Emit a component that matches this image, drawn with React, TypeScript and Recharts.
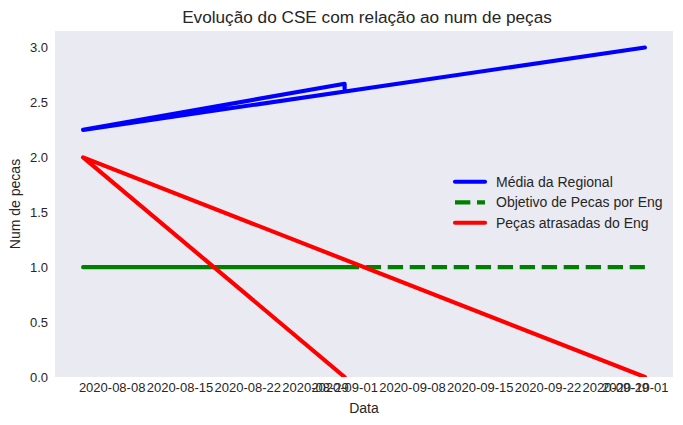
import React from 'react';
import { LineChart, Line, XAxis, YAxis, CartesianGrid } from 'recharts';

// ---- data ----
const mediaDates = ['2020-09-01', '2020-09-01', '2020-08-05', '2020-10-02'];
const mediaValues = [2.6, 2.67, 2.25, 3.0];

const objetivoDates = ['2020-09-01', '2020-08-05', '2020-10-02'];
const objetivoValues = [1, 1, 1];

const atrasadasDates = ['2020-09-01', '2020-08-05', '2020-10-02'];
const atrasadasValues = [0, 2, 0];

const xTickLabels = [
  '2020-08-08', '2020-08-15', '2020-08-22', '2020-08-29', '2020-09-01',
  '2020-09-08', '2020-09-15', '2020-09-22', '2020-09-29', '2020-10-01',
];
const yTickValues = [0, 0.5, 1, 1.5, 2, 2.5, 3];

const seriesNames = ['Média da Regional', 'Objetivo de Pecas por Eng', 'Peças atrasadas do Eng'];
const seriesColors = ['#0000FF', '#008000', '#FF0000'];

const TITLE = 'Evolução do CSE com relação ao num de peças';
const X_LABEL = 'Data';
const Y_LABEL = 'Num de pecas';

// ---- helpers ----
const toTs = (d: string) => Date.parse(d + 'T00:00:00Z');
const fmtDate = (v: number) => new Date(v).toISOString().slice(0, 10);
const build = (dates: string[], values: number[]) => dates.map((d, i) => ({ t: toTs(d), v: values[i] }));

const mediaData = build(mediaDates, mediaValues);
const objetivoData = build(objetivoDates, objetivoValues);
const atrasadasData = build(atrasadasDates, atrasadasValues);

const allTs = [...mediaDates, ...objetivoDates, ...atrasadasDates].map(toTs);
const tMin = Math.min(...allTs);
const tMax = Math.max(...allTs);
const pad = (tMax - tMin) * 0.05;
const xDomain = [tMin - pad, tMax + pad];
const xTicks = xTickLabels.map(toTs);

const FONT = '"Liberation Sans", Arial, sans-serif';
const TEXT = '#262626';

const W = 683;
const H = 425;
const M = { top: 31, right: 10, bottom: 0, left: 0 };
const YW = 55;
const XH = 48;
const plotLeft = M.left + YW;
const plotRight = W - M.right;
const plotTop = M.top;
const plotBottom = H - M.bottom - XH;
const plotCx = (plotLeft + plotRight) / 2;
const plotCy = (plotTop + plotBottom) / 2;

const LW = 4.15;
const DASH = `${3.7 * LW} ${1.6 * LW}`;

export default function App() {
  const legendX = 455;
  const legendRows = [181.7, 202.3, 222.7];
  return (
    <div style={{ position: 'absolute', left: 0, top: 0, width: W, height: H, background: '#fff' }}>
      <LineChart width={W} height={H} margin={M} style={{ fontFamily: FONT }}>
        <CartesianGrid fill="#EAEAF2" horizontal={false} vertical={false} stroke="none" />
        <XAxis
          dataKey="t"
          type="number"
          domain={xDomain}
          ticks={xTicks}
          tickFormatter={fmtDate}
          interval={0}
          allowDataOverflow
          axisLine={false}
          tickLine={false}
          tickSize={0}
          tickMargin={6}
          height={XH}
          tick={{ fill: TEXT, fontSize: 13, fontFamily: FONT }}
        />
        <YAxis
          type="number"
          domain={[0, 3.15]}
          ticks={yTickValues}
          tickFormatter={(v: number) => v.toFixed(1)}
          interval={0}
          allowDataOverflow
          axisLine={false}
          tickLine={false}
          tickSize={0}
          tickMargin={7}
          width={YW}
          tick={{ fill: TEXT, fontSize: 13, fontFamily: FONT }}
        />
        <Line
          data={mediaData}
          dataKey="v"
          type="linear"
          stroke={seriesColors[0]}
          strokeWidth={LW}
          strokeLinecap="round"
          strokeLinejoin="round"
          dot={false}
          activeDot={false}
          isAnimationActive={false}
          name={seriesNames[0]}
        />
        <Line
          data={objetivoData}
          dataKey="v"
          type="linear"
          stroke={seriesColors[1]}
          strokeWidth={LW}
          strokeDasharray={DASH}
          strokeDashoffset={5.7}
          strokeLinecap="butt"
          strokeLinejoin="round"
          dot={false}
          activeDot={false}
          isAnimationActive={false}
          name={seriesNames[1]}
        />
        <Line
          data={atrasadasData}
          dataKey="v"
          type="linear"
          stroke={seriesColors[2]}
          strokeWidth={LW}
          strokeLinecap="round"
          strokeLinejoin="round"
          dot={false}
          activeDot={false}
          isAnimationActive={false}
          name={seriesNames[2]}
        />
        <text x={plotCx + 3} y={22.5} textAnchor="middle" fill={TEXT} fontSize={17.2} fontFamily={FONT}>
          {TITLE}
        </text>
        <text x={plotCx} y={413} textAnchor="middle" fill={TEXT} fontSize={14} fontFamily={FONT}>
          {X_LABEL}
        </text>
        <text
          x={19.5}
          y={plotCy}
          textAnchor="middle"
          fill={TEXT}
          fontSize={14}
          fontFamily={FONT}
          transform={`rotate(-90 19.5 ${plotCy})`}
        >
          {Y_LABEL}
        </text>
        <g>
          {seriesNames.map((name, i) => (
            <g key={name}>
              <line
                x1={legendX}
                x2={legendX + 30}
                y1={legendRows[i]}
                y2={legendRows[i]}
                stroke={seriesColors[i]}
                strokeWidth={LW}
                strokeLinecap={i === 1 ? 'butt' : 'round'}
                strokeDasharray={i === 1 ? DASH : undefined}
              />
              <text x={legendX + 41} y={legendRows[i] + 5} fill={TEXT} fontSize={14} fontFamily={FONT}>
                {name}
              </text>
            </g>
          ))}
        </g>
      </LineChart>
    </div>
  );
}
